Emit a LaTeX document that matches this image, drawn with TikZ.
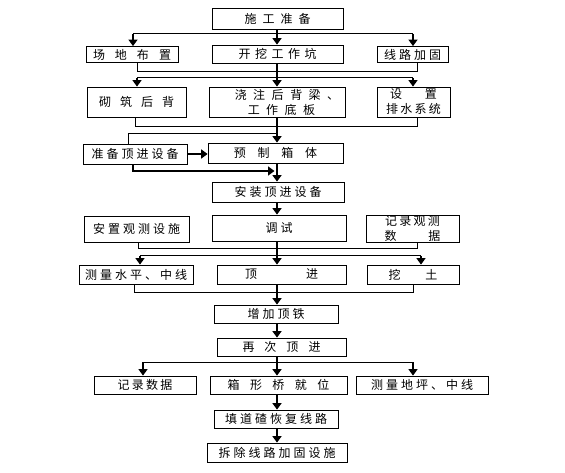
\documentclass[tikz,border=0pt]{standalone}
\usepackage{fontspec}
\setmainfont{Noto Sans CJK SC}
\usetikzlibrary{arrows.meta}
\makeatletter
\newcommand\ls[2]{\def\ls@sep{\hspace{#1}}\ls@a#2\ls@end}
\def\ls@a#1{#1\ls@b}
\def\ls@b#1{\ifx#1\ls@end\else\ls@sep#1\expandafter\ls@b\fi}
\def\ls@end{\relax}
\makeatother
\begin{document}
\begin{tikzpicture}[x=1pt,y=-1pt,
  box/.style={draw, line width=0.8pt, inner sep=0pt, align=center, font=\fontsize{12}{15}\selectfont},
  link/.style={line width=1pt},
  spine/.style={line width=2.6pt, -{Triangle[width=9pt,length=6.5pt]}},
  branch/.style={line width=1.4pt, -{Triangle[width=9pt,length=6.5pt]}},
  boldarr/.style={line width=2.2pt, -{Triangle[width=9pt,length=6.5pt]}},
]
\useasboundingbox[fill=white] (0,0) rectangle (565,473);

% boxes
\node[box, minimum width=131pt, minimum height=21pt] (A) at (277.5,18.5) {\ls{6pt}{施工准备}};
\node[box, minimum width=92pt, minimum height=16pt] (B1) at (132,54.5) {\ls{10pt}{场地布置}};
\node[box, minimum width=131pt, minimum height=18pt] (B2) at (277.5,54) {\ls{4.5pt}{开挖工作坑}};
\node[box, minimum width=71pt, minimum height=16pt] (B3) at (412.5,54.5) {\ls{3pt}{线路加固}};
\node[box, minimum width=99pt, minimum height=30pt] (C1) at (136.5,102) {\ls{9pt}{砌筑后背}};
\node[box, minimum width=136pt, minimum height=30pt, align=left] (C2) at (277,102)
  {\hspace*{20pt}\ls{6.5pt}{浇注后背梁、}\\\hspace*{33pt}\ls{6.5pt}{工作底板}};
\node[box, minimum width=73pt, minimum height=30pt] (C3) at (413.5,102) {\ls{23pt}{设置}\\\ls{2.3pt}{排水系统}};
\node[box, minimum width=104pt, minimum height=20pt] (D1) at (135,154) {\ls{3pt}{准备顶进设备}};
\node[box, minimum width=135pt, minimum height=20pt] (D2) at (275.5,153) {\ls{11.7pt}{预制箱体}};
\node[box, minimum width=132pt, minimum height=20pt] (E) at (278,192) {\ls{3pt}{安装顶进设备}};
\node[box, minimum width=105pt, minimum height=26pt] (F1) at (136.5,229) {\ls{3pt}{安置观测设施}};
\node[box, minimum width=134pt, minimum height=26pt] (F2) at (279,228) {\ls{3pt}{调试}};
\node[box, minimum width=93pt, minimum height=27pt] (F3) at (412.5,228.5) {\ls{2.3pt}{记录观测}\\\ls{32pt}{数据}};
\node[box, minimum width=114pt, minimum height=19pt] (G1) at (136,274.5) {\ls{3pt}{测量水平、中线}};
\node[box, minimum width=129pt, minimum height=19pt] (G2) at (281.5,274.5) {\ls{49pt}{顶进}};
\node[box, minimum width=92pt, minimum height=19pt] (G3) at (413,274.5) {\ls{24.7pt}{挖土}};
\node[box, minimum width=124pt, minimum height=18pt] (H) at (276,314) {\ls{3pt}{增加顶铁}};
\node[box, minimum width=129pt, minimum height=18pt] (I) at (281.5,347) {\ls{10pt}{再次顶进}};
\node[box, minimum width=102pt, minimum height=18pt] (J1) at (145,385) {\ls{2.3pt}{记录数据}};
\node[box, minimum width=137pt, minimum height=18pt] (J2) at (278.5,385) {\ls{10.4pt}{箱形桥就位}};
\node[box, minimum width=132pt, minimum height=18pt] (J3) at (422,385) {\ls{3pt}{测量地坪、中线}};
\node[box, minimum width=124pt, minimum height=18pt] (K) at (276,419) {\ls{3pt}{填道碴恢复线路}};
\node[box, minimum width=140pt, minimum height=19pt] (L) at (277,452.5) {\ls{3pt}{拆除线路加固设施}};

% spine x
\coordinate (sp) at (277,0);

% level 1 distribution
\coordinate (d1l) at (133,34); \coordinate (d1r) at (413,34);
\draw[link] (d1l) -- (d1r);
\draw[branch] (d1l) -- (B1.north -| d1l);
\draw[branch] (d1r) -- (B3.north -| d1r);
\draw[spine] (A.south -| sp) -- (B2.north -| sp);

% merge 1
\coordinate (m1l) at (137,72); \coordinate (m1r) at (417,72);
\draw[link] (B1.south -| m1l) -- (m1l) -- (m1r) -- (B3.south -| m1r);

% level 2 distribution
\coordinate (d2l) at (137,78); \coordinate (d2r) at (413,78);
\draw[link] (d2l) -- (d2r);
\draw[branch] (d2l) -- (C1.north -| d2l);
\draw[branch] (d2r) -- (C3.north -| d2r);
\draw[spine] (B2.south -| sp) -- (C2.north -| sp);

% merge 2
\coordinate (m2l) at (135,127); \coordinate (m2r) at (417,127);
\draw[link] (C1.south -| m2l) -- (m2l) -- (m2r) -- (C3.south -| m2r);

% line to 准备顶进设备
\coordinate (p1) at (128,133.5);
\draw[link] (D1.north -| p1) -- (p1) -- (p1 -| sp);

\draw[spine] (C2.south -| sp) -- (D2.north -| sp);
\draw[boldarr] (D1.east) -- (D1.east -| D2.west);
\coordinate (p2) at (133,171);
\draw[boldarr, shorten >=2.5pt] (D1.south -| p2) -- (p2) -- (p2 -| sp);
\draw[spine] (D2.south -| sp) -- (E.north -| sp);
\draw[spine] (E.south -| sp) -- (F2.north -| sp);

% merge 3
\coordinate (m3l) at (138,249); \coordinate (m3r) at (417,249);
\draw[link] (F1.south -| m3l) -- (m3l) -- (m3r) -- (F3.south -| m3r);

% level 3 distribution
\coordinate (d3l) at (140,256); \coordinate (d3r) at (421,256);
\draw[link] (d3l) -- (d3r);
\draw[branch] (d3l) -- (G1.north -| d3l);
\draw[branch] (d3r) -- (G3.north -| d3r);
\draw[spine] (F2.south -| sp) -- (G2.north -| sp);

% merge 4
\coordinate (m4l) at (134,292); \coordinate (m4r) at (413,292);
\draw[link] (G1.south -| m4l) -- (m4l) -- (m4r) -- (G3.south -| m4r);

\draw[spine] (G2.south -| sp) -- (H.north -| sp);
\draw[spine] (H.south -| sp) -- (I.north -| sp);

% level 4 distribution
\coordinate (d4l) at (143,362); \coordinate (d4r) at (413,362);
\draw[link] (d4l) -- (d4r);
\draw[branch] (d4l) -- (J1.north -| d4l);
\draw[branch] (d4r) -- (J3.north -| d4r);
\draw[spine] (I.south -| sp) -- (J2.north -| sp);

\draw[spine] (J2.south -| sp) -- (K.north -| sp);
\draw[spine] (K.south -| sp) -- (L.north -| sp);
\end{tikzpicture}
\end{document}
